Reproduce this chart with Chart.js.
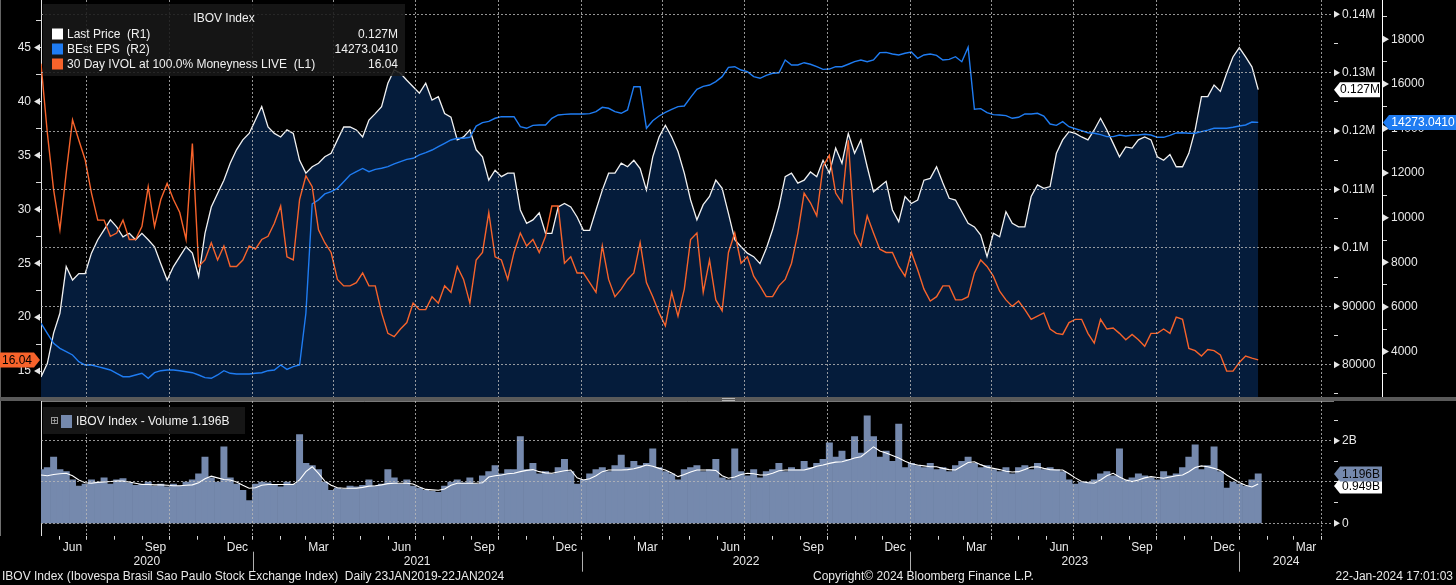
<!DOCTYPE html>
<html>
<head>
<meta charset="utf-8">
<script src="https://cdn.jsdelivr.net/npm/chart.js@4.4.0/dist/chart.umd.min.js"></script>
<style>
html, body { margin: 0; padding: 0; background: #000; overflow: hidden; }
#wrap { position: relative; width: 1456px; height: 585px; background: #000; }
#top { position: absolute; left: 0; top: 0; width: 1456px; height: 397px; }
#sep { position: absolute; left: 0; top: 397px; width: 1456px; height: 4px; background: #5a5a5a; }
#grip { position: absolute; left: 722px; top: 398px; width: 13px; height: 1px; border-top: 1px solid #b5b5b5; border-bottom: 1px solid #b5b5b5; }
#bot { position: absolute; left: 0; top: 401px; width: 1456px; height: 184px; }
</style>
</head>
<body>
<div id="wrap">
  <div id="top"><canvas id="c1"></canvas></div>
  <div id="sep"></div>
  <div id="grip"></div>
  <div id="bot"><canvas id="c2"></canvas></div>
</div>
<script>
// weekly samples, first one on 11 May 2020
const firstWeek = [2020, 5, 11];

// IBOV last price, thousands of points (R1)
const lastPrice = [
  77.9, 80.2, 85.4, 88.8, 96.8, 94.5, 95.6, 95.6, 99.1, 101.4,
  103.1, 104.8, 103.6, 101.9, 102.5, 101.4, 102.5, 101.4, 100.2, 97.3,
  94.5, 96.8, 98.5, 100.2, 99.1, 95.1, 102.5, 107.0, 109.3, 111.6,
  114.5, 116.8, 118.5, 119.6, 121.9, 124.2, 120.7, 119.6, 119.0, 120.2,
  119.6, 115.0, 112.8, 113.9, 114.5, 115.6, 116.2, 118.5, 120.7, 120.7,
  120.2, 119.0, 121.9, 123.0, 124.2, 128.2, 130.5, 129.9, 128.7, 127.6,
  126.5, 128.2, 125.3, 125.9, 123.0, 122.4, 118.5, 119.0, 120.2, 116.8,
  115.6, 111.6, 113.3, 112.2, 112.8, 112.8, 106.5, 104.2, 104.8, 106.0,
  102.5, 102.5, 107.0, 107.6, 107.0, 105.3, 103.0, 103.0, 106.5, 109.9,
  112.8, 112.8, 114.5, 113.9, 115.0, 113.6, 109.9, 115.6, 119.0, 121.0,
  119.0, 116.5, 112.8, 108.2, 104.8, 107.4, 108.8, 111.6, 110.2, 105.9,
  101.4, 100.2, 99.1, 98.5, 97.3, 99.9, 103.1, 107.0, 112.2, 112.8,
  111.1, 111.6, 113.0, 112.2, 115.0, 112.8, 117.1, 114.5, 119.6, 116.2,
  118.5, 113.9, 109.6, 110.5, 111.4, 106.5, 104.5, 108.8, 107.6, 108.2,
  111.6, 111.9, 113.9, 111.1, 108.5, 108.2, 106.2, 104.2, 103.6, 102.2,
  98.5, 102.5, 101.9, 106.2, 104.2, 103.6, 103.6, 108.8, 110.8, 110.2,
  110.5, 116.2, 118.5, 119.9, 119.6, 119.0, 118.5, 120.2, 122.2, 120.2,
  117.9, 115.6, 117.3, 117.1, 118.5, 119.0, 118.5, 115.6, 115.0, 116.0,
  113.9, 113.9, 116.2, 120.2, 125.9, 125.9, 127.9, 126.8, 129.9, 132.7,
  134.3, 132.7, 131.0, 127.1
];

// BEst EPS (R2)
const bestEps = [
  5270, 4817, 4365, 4140, 3995, 3845, 3545, 3395, 3395, 3320,
  3247, 3171, 3023, 2871, 2871, 2947, 3023, 2800, 3050, 3140,
  3171, 3171, 3140, 3095, 3050, 2947, 2830, 2800, 2947, 3140,
  3023, 2992, 2992, 2992, 3023, 3050, 3140, 3171, 3395, 3200,
  3320, 3395, 5714, 10620, 10800, 11065, 11170, 11317, 11615, 11915,
  12065, 12210, 12065, 12170, 12216, 12287, 12410, 12514, 12618, 12663,
  12813, 12918, 13036, 13186, 13337, 13485, 13561, 13561, 13605, 14110,
  14262, 14320, 14458, 14530, 14530, 14530, 14081, 14009, 14140, 14157,
  14157, 14458, 14606, 14635, 14650, 14650, 14650, 14665, 14755, 14950,
  14906, 14755, 14682, 14830, 15875, 15875, 14009, 14350, 14560, 14725,
  14860, 14980, 15010, 15396, 15760, 15890, 15950, 16100, 16325, 16740,
  16771, 16623, 16548, 16325, 16251, 16385, 16475, 16500, 17072, 16848,
  16848, 16950, 16880, 16771, 16650, 16665, 16771, 16771, 16880, 16996,
  17072, 16996, 17072, 17400, 17415, 17340, 17296, 17372, 17430, 17148,
  17296, 17341, 17280, 17072, 17100, 17220, 16996, 17641, 14861, 14890,
  14710, 14620, 14606, 14575, 14458, 14502, 14650, 14650, 14682, 14560,
  14200, 14140, 14306, 14081, 13990, 13901, 13812, 13785, 13724, 13635,
  13635, 13709, 13664, 13694, 13709, 13740, 13709, 13605, 13605, 13694,
  13800, 13812, 13785, 13785, 13860, 13930, 14009, 14009, 14009, 14054,
  14112, 14157, 14290, 14273.041
];

// 30 day IVOL at 100% moneyness (L1)
const ivol30 = [
  43.5, 37.1, 31.8, 28.1, 33.4, 38.3, 36.4, 34.6, 31.5, 29.0,
  29.0, 27.5, 27.8, 29.0, 27.2, 27.2, 28.4, 32.1, 28.4, 30.9,
  32.4, 30.9, 29.7, 27.2, 36.1, 24.7, 25.3, 26.9, 25.3, 26.6,
  24.7, 24.7, 25.3, 26.6, 26.3, 27.2, 27.5, 28.7, 30.3, 25.6,
  25.3, 30.9, 33.1, 32.1, 28.1, 26.9, 26.0, 23.5, 22.9, 22.9,
  23.2, 24.1, 22.9, 22.9, 20.4, 18.5, 18.2, 18.9, 19.5, 21.3,
  20.7, 20.7, 21.9, 21.3, 22.9, 22.3, 24.7, 23.5, 21.3, 25.3,
  26.0, 29.7, 25.6, 25.3, 23.5, 26.0, 27.8, 26.6, 27.2, 26.0,
  27.5, 30.3, 30.3, 25.0, 25.6, 24.1, 24.1, 23.2, 22.3, 26.6,
  23.5, 21.9, 22.6, 23.5, 24.1, 26.9, 23.2, 21.9, 20.4, 19.2,
  22.3, 20.1, 22.6, 27.2, 27.8, 22.3, 25.3, 21.6, 20.6, 26.0,
  27.8, 25.0, 25.6, 23.8, 22.9, 21.9, 21.9, 22.9, 23.5, 25.0,
  27.8, 31.5, 30.6, 29.4, 34.0, 35.0, 31.5, 30.6, 36.4, 27.8,
  26.6, 29.4, 27.8, 26.3, 26.0, 26.0, 24.7, 23.8, 26.0, 24.4,
  22.6, 21.5, 21.9, 22.9, 22.9, 21.6, 21.6, 21.9, 24.1, 25.3,
  24.7, 23.8, 22.4, 21.6, 21.0, 21.5, 20.7, 19.8, 20.1, 20.4,
  18.9, 18.5, 18.4, 19.5, 19.8, 19.8, 18.5, 17.6, 19.8, 18.9,
  19.0, 18.5, 17.9, 18.4, 17.9, 17.3, 18.5, 18.5, 18.9, 18.5,
  20.0, 19.8, 17.1, 16.9, 16.4, 17.0, 16.9, 16.5, 15.0, 15.0,
  15.8, 16.4, 16.2, 16.04
];

// volume, billions
const volume = [
  1.30, 1.35, 1.60, 1.30, 1.25, 1.05, 0.90, 0.95, 1.05, 1.00,
  1.10, 0.95, 1.05, 1.08, 0.98, 0.92, 0.95, 1.00, 0.90, 0.95,
  0.88, 0.95, 0.90, 1.00, 1.05, 1.20, 1.60, 1.10, 1.00, 1.85,
  1.10, 0.95, 0.80, 0.55, 0.95, 1.00, 0.98, 0.92, 0.88, 1.00,
  0.95, 2.15, 1.45, 1.40, 1.30, 1.00, 0.80, 0.85, 0.82, 0.90,
  0.88, 0.92, 1.05, 0.90, 0.95, 1.30, 1.10, 0.95, 1.05, 0.90,
  0.85, 0.80, 0.78, 0.75, 0.90, 1.00, 1.05, 0.98, 1.10, 0.95,
  1.15, 1.25, 1.40, 1.20, 1.30, 1.30, 2.10, 1.30, 1.45, 1.20,
  1.25, 1.20, 1.35, 1.55, 1.25, 0.95, 1.05, 1.20, 1.30, 1.35,
  1.25, 1.40, 1.65, 1.35, 1.50, 1.40, 1.45, 1.80, 1.35, 1.25,
  1.20, 1.05, 1.30, 1.35, 1.40, 1.25, 1.30, 1.55, 1.10, 1.05,
  1.80, 1.25, 1.15, 1.30, 1.10, 1.25, 1.30, 1.45, 1.25, 1.35,
  1.30, 1.50, 1.35, 1.45, 1.55, 1.95, 1.60, 1.75, 1.55, 2.10,
  1.70, 2.60, 2.10, 1.60, 1.75, 1.50, 2.40, 1.35, 1.45, 1.40,
  1.35, 1.45, 1.30, 1.35, 1.25, 1.40, 1.50, 1.60, 1.45, 1.35,
  1.40, 1.30, 1.25, 1.35, 1.20, 1.35, 1.40, 1.30, 1.45, 1.30,
  1.35, 1.30, 1.25, 1.05, 0.95, 1.00, 1.00, 1.05, 1.20, 1.25,
  1.15, 1.80, 1.05, 1.10, 1.20, 1.15, 1.10, 1.05, 1.25, 1.15,
  1.20, 1.35, 1.60, 1.90, 1.30, 1.40, 1.85, 1.25, 0.85, 1.00,
  0.95, 0.90, 1.05, 1.196
];

// volume moving average, billions
const volumeAvg = [
  1.17, 1.15, 1.18, 1.20, 1.21, 1.15, 1.05, 0.98, 0.97, 0.99,
  1.00, 1.01, 1.02, 1.02, 1.00, 0.97, 0.94, 0.94, 0.93, 0.93,
  0.92, 0.91, 0.91, 0.92, 0.93, 0.98, 1.08, 1.14, 1.10, 1.06,
  1.05, 1.00, 0.92, 0.85, 0.86, 0.92, 0.94, 0.94, 0.94, 0.94,
  0.94, 1.05, 1.25, 1.37, 1.21, 1.02, 0.92, 0.86, 0.85, 0.85,
  0.85, 0.87, 0.90, 0.91, 0.93, 0.96, 0.97, 0.97, 0.97, 0.95,
  0.88, 0.82, 0.81, 0.80, 0.83, 0.92, 0.97, 0.97, 0.97, 0.97,
  0.98, 1.12, 1.15, 1.17, 1.20, 1.21, 1.25, 1.28, 1.30, 1.25,
  1.22, 1.21, 1.24, 1.27, 1.29, 1.10, 1.05, 1.08, 1.15, 1.25,
  1.29, 1.29, 1.29, 1.30, 1.32, 1.36, 1.41, 1.38, 1.33, 1.29,
  1.22, 1.13, 1.18, 1.24, 1.29, 1.29, 1.29, 1.28, 1.15, 1.09,
  1.12, 1.18, 1.21, 1.20, 1.17, 1.17, 1.21, 1.27, 1.29, 1.29,
  1.29, 1.29, 1.33, 1.38, 1.41, 1.45, 1.48, 1.49, 1.53, 1.58,
  1.61, 1.73, 1.85, 1.75, 1.70, 1.64, 1.58, 1.50, 1.44, 1.41,
  1.39, 1.37, 1.37, 1.33, 1.30, 1.29, 1.38, 1.47, 1.49, 1.42,
  1.36, 1.33, 1.30, 1.26, 1.24, 1.25, 1.30, 1.36, 1.37, 1.33,
  1.30, 1.29, 1.29, 1.20, 1.10, 1.01, 0.98, 0.97, 1.05, 1.15,
  1.21, 1.12, 1.05, 1.01, 1.05, 1.10, 1.13, 1.11, 1.09, 1.12,
  1.15, 1.17, 1.25, 1.35, 1.39, 1.37, 1.33, 1.28, 1.17, 1.08,
  0.99, 0.92, 0.88, 0.949
];

const monthNames = ['Jan', 'Feb', 'Mar', 'Apr', 'May', 'Jun', 'Jul', 'Aug', 'Sep', 'Oct', 'Nov', 'Dec'];
const yearLabels = [2020, 2021, 2022, 2023, 2024];
const ivolTicks = [15, 20, 25, 30, 35, 40, 45];
const priceTicks = [80, 90, 100, 110, 120, 130, 140];
const epsTicks = [4000, 6000, 8000, 10000, 12000, 14000, 16000, 18000];
const volTicks = [0, 2];

const FONT = '12px "Liberation Sans", Arial, sans-serif';
const gridCol = 'rgba(185,185,185,0.8)';
const clear = 'rgba(0,0,0,0)';
const volColor = '#7589ad';

Chart.defaults.font.family = '"Liberation Sans", Arial, sans-serif';
Chart.defaults.font.size = 12;
Chart.defaults.color = '#e8e8e8';

function dayOf(y, m, d) { return (Date.UTC(y, m - 1, d) - Date.UTC(2021, 0, 1)) / 864e5; }
const xMin = -235, xMax = 1199;
const t0 = dayOf(firstWeek[0], firstWeek[1], firstWeek[2]);
const xDays = lastPrice.map((v, i) => t0 + 7 * i);
const pts = arr => arr.map((v, i) => ({ x: xDays[i], y: v }));
const last = arr => arr[arr.length - 1];

const quarterDays = [], monthDays = [], labelDays = [];
for (let y = 2020; y <= 2024; y++) {
  for (let m = 1; m <= 12; m++) {
    const d = dayOf(y, m, 1);
    if (d >= xMin && d <= xMax) {
      monthDays.push(d);
      if ((m - 1) % 3 === 0) quarterDays.push(d);
    }
    const mid = dayOf(y, m, 15);
    if (m % 3 === 0 && mid >= xMin && mid <= xMax) labelDays.push({ value: mid, text: monthNames[m - 1] });
  }
}

function range(a, b, step) { const out = []; for (let v = a; v <= b + 1e-9; v += step) out.push(+v.toFixed(4)); return out; }

// fixed axis sizes, no extra label padding at the plot edges
const fitV = w => s => { s.width = w; s.paddingTop = 0; s.paddingBottom = 0; };
const fitH = h => s => { s.height = h; s.paddingLeft = 0; s.paddingRight = 0; };

function arrows(ctx, scale, values, side) {
  const x = side === 'left' ? scale.right : scale.left;
  ctx.fillStyle = '#e6e6e6';
  values.forEach(v => {
    const y = scale.getPixelForValue(v);
    if (y < scale.top - 1 || y > scale.bottom + 1) return;
    ctx.beginPath();
    if (side === 'left') { ctx.moveTo(x - 1, y - 3.5); ctx.lineTo(x - 1, y + 3.5); ctx.lineTo(x - 7, y); }
    else { ctx.moveTo(x + 1, y - 3.5); ctx.lineTo(x + 1, y + 3.5); ctx.lineTo(x + 7, y); }
    ctx.closePath();
    ctx.fill();
  });
}

// value tag with an arrow; dir 'right' = body to the right of the tip
function tag(ctx, tipX, y, w, dir, fill, text, txt) {
  const h = 15, a = 6;
  const x0 = dir === 'right' ? tipX + a : tipX - a - w;
  ctx.beginPath();
  if (dir === 'right') {
    ctx.moveTo(tipX, y); ctx.lineTo(x0, y - h / 2); ctx.lineTo(x0 + w, y - h / 2); ctx.lineTo(x0 + w, y + h / 2); ctx.lineTo(x0, y + h / 2);
  } else {
    ctx.moveTo(tipX, y); ctx.lineTo(tipX - a, y - h / 2); ctx.lineTo(x0, y - h / 2); ctx.lineTo(x0, y + h / 2); ctx.lineTo(tipX - a, y + h / 2);
  }
  ctx.closePath();
  ctx.fillStyle = fill;
  ctx.fill();
  ctx.fillStyle = txt;
  ctx.textAlign = 'center';
  ctx.textBaseline = 'middle';
  ctx.fillText(text, x0 + w / 2, y + 0.5);
}

const topDecor = {
  id: 'topDecor',
  afterDraw(chart) {
    const { ctx, scales: { yV, yP, yE } } = chart;
    ctx.save();
    ctx.font = FONT;
    arrows(ctx, yV, ivolTicks, 'left');
    arrows(ctx, yP, priceTicks, 'right');
    arrows(ctx, yE, epsTicks, 'right');

    // legend box
    ctx.fillStyle = 'rgba(24,24,24,0.88)';
    ctx.fillRect(43, 4, 362, 72);
    ctx.fillStyle = '#f0f0f0';
    ctx.textAlign = 'center';
    ctx.textBaseline = 'middle';
    ctx.fillText('IBOV Index', 224, 19);
    const rows = [
      ['#ffffff', 'Last Price  (R1)', (last(lastPrice) / 1000).toFixed(3) + 'M'],
      ['#1f7cf2', 'BEst EPS  (R2)', last(bestEps).toFixed(4)],
      ['#f7632b', '30 Day IVOL at 100.0% Moneyness LIVE  (L1)', last(ivol30).toFixed(2)]
    ];
    rows.forEach((r, k) => {
      const y = 34 + k * 15;
      ctx.fillStyle = r[0];
      ctx.fillRect(52, y - 5.5, 11, 11);
      ctx.fillStyle = '#f0f0f0';
      ctx.textAlign = 'left';
      ctx.fillText(r[1], 67, y + 0.5);
      ctx.textAlign = 'right';
      ctx.fillText(r[2], 398, y + 0.5);
    });

    // last value tags
    tag(ctx, yP.left + 1, yP.getPixelForValue(last(lastPrice)), 40, 'right', '#ffffff', rows[0][2], '#000');
    tag(ctx, yE.left + 1, yE.getPixelForValue(last(bestEps)), 68, 'right', '#1f7cf2', rows[1][2], '#fff');
    tag(ctx, yV.right - 1, yV.getPixelForValue(last(ivol30)), 34, 'left', '#f7632b', rows[2][2], '#000');
    ctx.restore();
  }
};

new Chart(document.getElementById('c1'), {
  type: 'line',
  data: {
    datasets: [
      { label: 'Last Price', data: pts(lastPrice), yAxisID: 'yP', borderColor: '#f2f2f2', borderWidth: 1.3,
        fill: 'start', backgroundColor: '#051c3b', order: 3 },
      { label: 'BEst EPS', data: pts(bestEps), yAxisID: 'yE', borderColor: '#1f7cf2', borderWidth: 1.4, fill: false, order: 2 },
      { label: '30 Day IVOL', data: pts(ivol30), yAxisID: 'yV', borderColor: '#f7632b', borderWidth: 1.4, fill: false, order: 1 }
    ]
  },
  options: {
    responsive: true,
    maintainAspectRatio: false,
    animation: false,
    devicePixelRatio: 1,
    layout: { padding: 0 },
    elements: { point: { radius: 0 }, line: { tension: 0 } },
    plugins: { legend: { display: false }, tooltip: { enabled: false } },
    scales: {
      x: {
        type: 'linear', min: xMin, max: xMax,
        afterBuildTicks: s => { s.ticks = quarterDays.map(v => ({ value: v })); },
        afterFit: fitH(0),
        ticks: { display: false },
        grid: { color: gridCol, drawTicks: false, z: 1 },
        border: { display: false, dash: [2, 2] }
      },
      yV: {
        position: 'left', min: 12.6, max: 49.4,
        afterBuildTicks: s => { s.ticks = range(15, 47.5, 2.5).map(v => ({ value: v })); },
        afterFit: fitV(41),
        ticks: { padding: 5, autoSkip: false, callback: v => ivolTicks.includes(v) ? String(v) : '' },
        grid: { drawOnChartArea: false, tickLength: 5, tickColor: '#d8d8d8' },
        border: { color: '#e0e0e0' }
      },
      yP: {
        position: 'right', weight: 0, min: 74.47, max: 142.45,
        afterBuildTicks: s => { s.ticks = range(75, 140, 5).map(v => ({ value: v })); },
        afterFit: fitV(49),
        ticks: { padding: 4, autoSkip: false,
          callback: v => priceTicks.includes(v) ? (v >= 100 ? (v / 1000) + 'M' : String(v * 1000)) : '' },
        grid: { z: 1, tickLength: 5, tickColor: '#d8d8d8',
          color: c => (c.tick && priceTicks.includes(c.tick.value)) ? gridCol : clear },
        border: { color: '#c8c8c8', dash: [2, 2] }
      },
      yE: {
        position: 'right', weight: 1, min: 1960, max: 19762,
        afterBuildTicks: s => { s.ticks = range(3000, 19000, 1000).map(v => ({ value: v })); },
        afterFit: fitV(74),
        ticks: { padding: 4, autoSkip: false, callback: v => epsTicks.includes(v) ? String(v) : '' },
        grid: { drawOnChartArea: false, tickLength: 5, tickColor: '#d8d8d8' },
        border: { color: '#ffffff' }
      }
    }
  },
  plugins: [topDecor]
});

const botDecor = {
  id: 'botDecor',
  afterDraw(chart) {
    const { ctx, chartArea, scales: { x, yv } } = chart;
    ctx.save();
    ctx.font = FONT;
    arrows(ctx, yv, volTicks, 'right');

    // legend box
    ctx.fillStyle = 'rgba(24,24,24,0.9)';
    ctx.fillRect(43, 6, 202, 27);
    ctx.strokeStyle = '#9a9a9a';
    ctx.lineWidth = 1;
    ctx.strokeRect(51.5, 16.5, 6, 6);
    ctx.beginPath();
    ctx.moveTo(52.5, 19.5); ctx.lineTo(56.5, 19.5);
    ctx.moveTo(54.5, 17.5); ctx.lineTo(54.5, 21.5);
    ctx.stroke();
    ctx.fillStyle = volColor;
    ctx.fillRect(61, 14, 11, 13);
    ctx.fillStyle = '#f0f0f0';
    ctx.textAlign = 'left';
    ctx.textBaseline = 'middle';
    ctx.fillText('IBOV Index - Volume ' + last(volume).toFixed(3) + 'B', 76, 21);

    // last value tags
    tag(ctx, yv.left + 1, yv.getPixelForValue(last(volumeAvg)) + 2, 42, 'right', '#ffffff', last(volumeAvg).toFixed(3) + 'B', '#000');
    tag(ctx, yv.left + 1, yv.getPixelForValue(last(volume)), 42, 'right', volColor, last(volume).toFixed(3) + 'B', '#0a0a0a');

    // year row
    const yb = chartArea.bottom;
    ctx.fillStyle = '#e8e8e8';
    ctx.textAlign = 'center';
    yearLabels.forEach(yr => {
      const a = Math.max(dayOf(yr, 1, 1), xMin), b = Math.min(dayOf(yr + 1, 1, 1), xMax);
      ctx.fillText(String(yr), (x.getPixelForValue(a) + x.getPixelForValue(b)) / 2, yb + 26);
      const s = dayOf(yr, 1, 1);
      if (s > xMin) {
        const px = Math.round(x.getPixelForValue(s)) + 0.5;
        ctx.strokeStyle = '#b0b0b0';
        ctx.beginPath(); ctx.moveTo(px, yb + 16); ctx.lineTo(px, yb + 36); ctx.stroke();
      }
    });

    // footer
    ctx.textAlign = 'left';
    ctx.fillText('IBOV Index (Ibovespa Brasil Sao Paulo Stock Exchange Index)  Daily 23JAN2019-22JAN2024', 2, 176);
    ctx.fillText('Copyright\u00a9 2024 Bloomberg Finance L.P.', 813, 176);
    ctx.textAlign = 'right';
    ctx.fillText('22-Jan-2024 17:01:03', 1453, 176);
    ctx.restore();
  }
};

new Chart(document.getElementById('c2'), {
  type: 'bar',
  data: {
    datasets: [
      { type: 'line', label: 'Average', data: pts(volumeAvg), yAxisID: 'yv', borderColor: '#ffffff', borderWidth: 1.1,
        pointRadius: 0, tension: 0, fill: false, order: 0 },
      { type: 'bar', label: 'Volume', data: pts(volume), yAxisID: 'yv', backgroundColor: volColor,
        barPercentage: 1, categoryPercentage: 1, borderWidth: 0, order: 1 }
    ]
  },
  options: {
    responsive: true,
    maintainAspectRatio: false,
    animation: false,
    devicePixelRatio: 1,
    layout: { padding: 0 },
    plugins: { legend: { display: false }, tooltip: { enabled: false } },
    scales: {
      x: {
        type: 'linear', min: xMin, max: xMax, offset: false,
        afterBuildTicks: s => {
          const t = monthDays.map(v => ({ value: v, kind: 'm', q: quarterDays.includes(v) }))
            .concat(labelDays.map(o => ({ value: o.value, kind: 'l', text: o.text })));
          s.ticks = t.sort((a, b) => a.value - b.value);
        },
        afterFit: fitH(49.3),
        ticks: { autoSkip: false, maxRotation: 0, padding: 1, color: '#e8e8e8',
          callback: (v, i, ticks) => ticks[i].kind === 'l' ? ticks[i].text : '' },
        grid: { offset: false, z: 1, tickLength: 4,
          color: c => (c.tick && c.tick.q) ? gridCol : clear,
          tickColor: c => (c.tick && c.tick.kind === 'm') ? '#d8d8d8' : clear },
        border: { color: '#f0f0f0', dash: [2, 2] }
      },
      yl: {
        position: 'left', min: -0.3, max: 2.96,
        afterBuildTicks: s => { s.ticks = []; },
        afterFit: fitV(41),
        ticks: { display: false },
        grid: { display: false },
        border: { color: '#e0e0e0' }
      },
      yv: {
        position: 'right', min: -0.3, max: 2.96,
        afterBuildTicks: s => { s.ticks = range(0, 2.5, 0.5).map(v => ({ value: v })); },
        afterFit: fitV(123),
        ticks: { padding: 4, autoSkip: false, callback: v => v === 0 ? '0' : (volTicks.includes(v) ? v + 'B' : '') },
        grid: { z: 1, tickLength: 5, tickColor: '#d8d8d8',
          color: c => (c.tick && Number.isInteger(c.tick.value)) ? gridCol : clear },
        border: { color: '#e0e0e0', dash: [2, 2] }
      }
    }
  },
  plugins: [botDecor]
});
</script>
</body>
</html>
